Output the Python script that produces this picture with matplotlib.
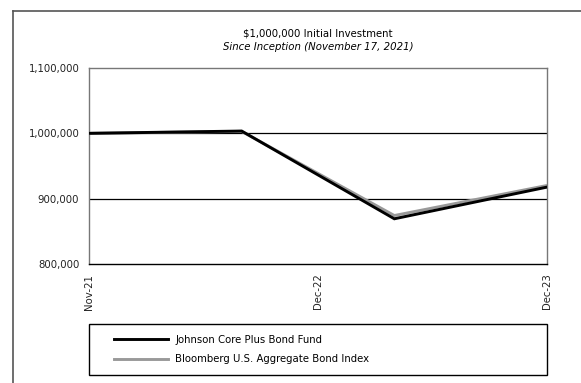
import matplotlib
matplotlib.use("Agg")
import matplotlib.pyplot as plt
from matplotlib.lines import Line2D
from matplotlib.patches import Rectangle
from matplotlib.ticker import FuncFormatter

# values
periods = [0, 1, 2, 3]
fund = [1000000, 1003500, 869200, 917700]
index = [1000000, 1003000, 874200, 920200]
tick_pos = [0, 1.5, 3]
tick_labels = ["Nov-21", "Dec-22", "Dec-23"]
fund_name = "Johnson Core Plus Bond Fund"
index_name = "Bloomberg U.S. Aggregate Bond Index"

plt.rcParams['font.family'] = ['DejaVu Sans']
fs = 7.3

W, H = 581, 383
fig = plt.figure(figsize=(W / 100, H / 100), dpi=100)
ax = fig.add_axes([89 / W, 1 - 264 / H, (547 - 89) / W, (264 - 68) / H])

ax.plot(periods, index, color="#999999", lw=2.1, solid_joinstyle="miter", zorder=3, label=index_name)
ax.plot(periods, fund, color="black", lw=2.1, solid_joinstyle="miter", zorder=4, label=fund_name)

ax.set_xlim(0, 3)
ax.set_ylim(800000, 1100000)
ax.set_yticks([800000, 900000, 1000000, 1100000])
ax.yaxis.set_major_formatter(FuncFormatter(lambda v, p: f"{v:,.0f}"))
ax.set_xticks(tick_pos)
ax.set_xticklabels(tick_labels, rotation=90, va="top", ha="center")
ax.tick_params(length=0, labelsize=fs, colors="#222222")
ax.tick_params(axis="y", pad=7)
ax.tick_params(axis="x", pad=7)
for v in [900000, 1000000]:
    ax.axhline(v, color="black", lw=0.9, zorder=1)
for s in ["left", "right", "top"]:
    ax.spines[s].set_color("#777777")
    ax.spines[s].set_linewidth(1)
ax.spines["bottom"].set_color("black")
ax.spines["bottom"].set_linewidth(1)

fig.text(318 / W, 1 - 34 / H, "$1,000,000 Initial Investment", ha="center", va="center", fontsize=fs)
fig.text(318 / W, 1 - 47 / H, "Since Inception (November 17, 2021)", ha="center", va="center",
         fontsize=fs, style="italic")

# outer frame (top and left edges)
fig.add_artist(Line2D([13 / W, 1], [1 - 11 / H, 1 - 11 / H], color="#555555", lw=1.2))
fig.add_artist(Line2D([13 / W, 13 / W], [0, 1 - 11 / H], color="#555555", lw=1.2))

# legend box
fig.add_artist(Rectangle((89 / W, 1 - 375 / H), (547 - 89) / W, (375 - 324) / H,
                         transform=fig.transFigure, fill=False, edgecolor="black", lw=1))
h, l = ax.get_legend_handles_labels()
leg = fig.legend(h[::-1], l[::-1], loc="upper left", bbox_to_anchor=(114 / W, 1 - 335 / H),
                 frameon=False, fontsize=fs, handlelength=5.3, handletextpad=0.75,
                 borderpad=0, borderaxespad=0, labelspacing=0.9)

fig.savefig("out.png", dpi=100)
